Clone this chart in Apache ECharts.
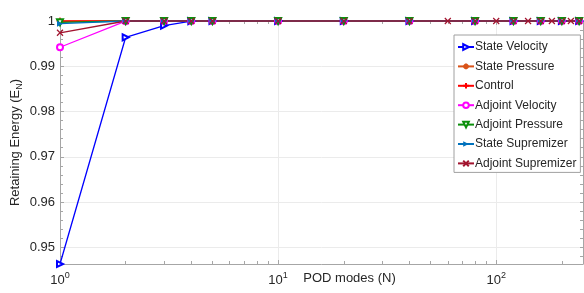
<!DOCTYPE html>
<html>
<head>
<meta charset="utf-8">
<script src="https://cdn.jsdelivr.net/npm/echarts@6/dist/echarts.min.js"></script>
<style>
html, body { margin: 0; padding: 0; background: #fff; }
#energy { width: 584px; height: 293px; }
</style>
</head>
<body>
<div id="energy"></div>
<script>
// POD modes (N)
var nModes = [1, 2, 3, 4, 5, 10, 20, 40, 80, 120, 160, 200, 240];
var nModesAdjSup = [1, 2, 3, 4, 5, 10, 20, 40, 60, 80, 100, 120, 140, 160, 180, 200, 220, 240];

// retaining energy E_N
var stateVelocity   = [0.9463, 0.9964, 0.9990, 0.99995, 1, 1, 1, 1, 1, 1, 1, 1, 1];
var statePressure   = [0.99995, 1, 1, 1, 1, 1, 1, 1, 1, 1, 1, 1, 1];
var control         = [1, 1, 1, 1, 1, 1, 1, 1, 1, 1, 1, 1, 1];
var adjointVelocity = [0.9942, 0.99995, 1, 1, 1, 1, 1, 1, 1, 1, 1, 1, 1];
var adjointPressure = [0.9997, 1, 1, 1, 1, 1, 1, 1, 1, 1, 1, 1, 1];
var stateSupremizer = [0.9994, 1, 1, 1, 1, 1, 1, 1, 1, 1, 1, 1, 1];
var adjointSupremizer = [0.9974, 1, 1, 1, 1, 1, 1, 1, 1, 1, 1, 1, 1, 1, 1, 1, 1, 1];

var yMin = 0.9463, yMax = 1;
var xMin = 1, xMax = 250;

function pairs(xs, ys) {
    var out = [];
    for (var i = 0; i < xs.length; i++) out.push([xs[i], ys[i]]);
    return out;
}

// minor ticks (log decades 2..9) put on a helper value axis in log10 units
var xMinor = [];
for (var d = 1; d <= 100; d *= 10) {
    for (var k = 2; k <= 9; k++) {
        if (k * d < xMax) xMinor.push(Math.log10(k * d));
    }
}
var yMinor = [];
for (var t = 0.948; t < yMax; t += 0.002) yMinor.push(Math.round(t * 1000) / 1000);

var axisGray = '#a6a6a6';
var txt = '#262626';
var font = 'Liberation Sans, Arial, Helvetica, sans-serif';

var ASTER = 'path://M5,0L5,10M0,5L10,5M1.5,1.5L8.5,8.5M8.5,1.5L1.5,8.5';
var PLUS = 'path://M5,0L5,10M0,5L10,5';
var CROSS = 'path://M0,0L10,10M10,0L0,10';

function line(name, data, color, symbol, opt) {
    opt = opt || {};
    var s = {
        name: name,
        type: 'line',
        data: data,
        clip: false,
        symbol: symbol,
        symbolSize: opt.size || 6,
        symbolRotate: opt.rotate || 0,
        lineStyle: { color: color, width: 1.3 },
        itemStyle: { color: color },
        emphasis: { disabled: true }
    };
    if (opt.stroke) {
        s.itemStyle = { color: 'rgba(0,0,0,0)', borderColor: color, borderWidth: 1.2 };
    }
    return s;
}

var myChart = echarts.init(document.getElementById('energy'));

var option = {
    animation: false,
    backgroundColor: '#fff',
    textStyle: { fontFamily: font, color: txt },
    grid: { left: 60, right: 1, top: 21, bottom: 29, outerBoundsMode: 'none', containLabel: false },
    legend: {
        orient: 'vertical',
        left: 454,
        top: 35,
        padding: [5, 4, 2, 3],
        itemWidth: 16,
        itemHeight: 7,
        itemGap: 5.4,
        backgroundColor: '#fff',
        borderColor: '#a0a0a0',
        borderWidth: 1,
        borderRadius: 0,
        textStyle: { fontSize: 12, color: txt, fontFamily: font, lineHeight: 14, padding: [0, 0, 0, -4] },
        data: ['State Velocity', 'State Pressure', 'Control', 'Adjoint Velocity',
               'Adjoint Pressure', 'State Supremizer', 'Adjoint Supremizer']
    },
    xAxis: [
        {
            type: 'log', logBase: 10, min: xMin, max: xMax, position: 'bottom',
            name: 'POD modes (N)', nameLocation: 'middle', nameGap: 8, nameMoveOverlap: false,
            nameTextStyle: { fontSize: 13, color: txt, verticalAlign: 'top', padding: [0, 0, 0, 56] },
            axisLine: { show: true, lineStyle: { color: axisGray, width: 1 } },
            axisTick: { show: true, inside: true, length: 4, lineStyle: { color: axisGray } },
            axisLabel: {
                fontSize: 13, color: txt, margin: 7, lineHeight: 18, showMaxLabel: false,
                formatter: function (v) {
                    return '10{p|' + Math.round(Math.log10(v)) + '}';
                },
                rich: { p: { fontSize: 9, lineHeight: 9, verticalAlign: 'top', color: txt } }
            },
            splitLine: { show: true, lineStyle: { color: '#ebebeb', width: 1 } },
            minorTick: { show: false }
        },
        {
            type: 'value', min: 0, max: Math.log10(xMax), position: 'bottom',
            axisLine: { show: false },
            axisTick: { show: true, inside: true, length: 3, customValues: xMinor, lineStyle: { color: axisGray } },
            axisLabel: { show: false },
            splitLine: { show: false }
        },
        {
            type: 'log', logBase: 10, min: xMin, max: xMax, position: 'top',
            axisLine: { show: true, lineStyle: { color: axisGray } },
            axisTick: { show: true, inside: true, length: 4, lineStyle: { color: axisGray } },
            axisLabel: { show: false },
            splitLine: { show: false }
        },
        {
            type: 'value', min: 0, max: Math.log10(xMax), position: 'top',
            axisLine: { show: false },
            axisTick: { show: true, inside: true, length: 3, customValues: xMinor, lineStyle: { color: axisGray } },
            axisLabel: { show: false },
            splitLine: { show: false }
        }
    ],
    yAxis: [
        {
            type: 'value', min: yMin, max: yMax, position: 'left',
            name: 'Retaining Energy (E{s|N})', nameLocation: 'middle', nameGap: 36, nameMoveOverlap: false,
            nameTextStyle: {
                fontSize: 13, color: txt, lineHeight: 18,
                rich: { s: { fontSize: 9, lineHeight: 9, verticalAlign: 'bottom', color: txt } }
            },
            axisLine: { show: true, lineStyle: { color: axisGray } },
            axisTick: { show: true, inside: true, length: 4, lineStyle: { color: axisGray } },
            axisLabel: { fontSize: 13, color: txt, margin: 5, showMinLabel: false },
            splitLine: { show: true, lineStyle: { color: '#ebebeb' } }
        },
        {
            type: 'value', min: yMin, max: yMax, position: 'left',
            axisLine: { show: false },
            axisTick: { show: true, inside: true, length: 3, customValues: yMinor, lineStyle: { color: axisGray } },
            axisLabel: { show: false },
            splitLine: { show: false }
        },
        {
            type: 'value', min: yMin, max: yMax, position: 'right',
            axisLine: { show: true, lineStyle: { color: axisGray } },
            axisTick: { show: true, inside: true, length: 3, customValues: yMinor, lineStyle: { color: axisGray } },
            axisLabel: { show: false },
            splitLine: { show: false }
        }
    ],
    series: [
        line('State Velocity', pairs(nModes, stateVelocity), '#0000ff', 'emptyTriangle', { rotate: -90 }),
        line('State Pressure', pairs(nModes, statePressure), '#d95319', ASTER, { stroke: true, size: 6 }),
        line('Control', pairs(nModes, control), '#ff0000', PLUS, { stroke: true, size: 7 }),
        line('Adjoint Velocity', pairs(nModes, adjointVelocity), '#ff00ff', 'emptyCircle', { size: 6 }),
        line('Adjoint Pressure', pairs(nModes, adjointPressure), '#0b8f0b', 'emptyTriangle', { rotate: 180 }),
        line('State Supremizer', pairs(nModes, stateSupremizer), '#0072bd', 'triangle', { rotate: -90 }),
        line('Adjoint Supremizer', pairs(nModesAdjSup, adjointSupremizer), '#a2142f', CROSS, { stroke: true, size: 6 })
    ]
};

myChart.setOption(option);
</script>
</body>
</html>
